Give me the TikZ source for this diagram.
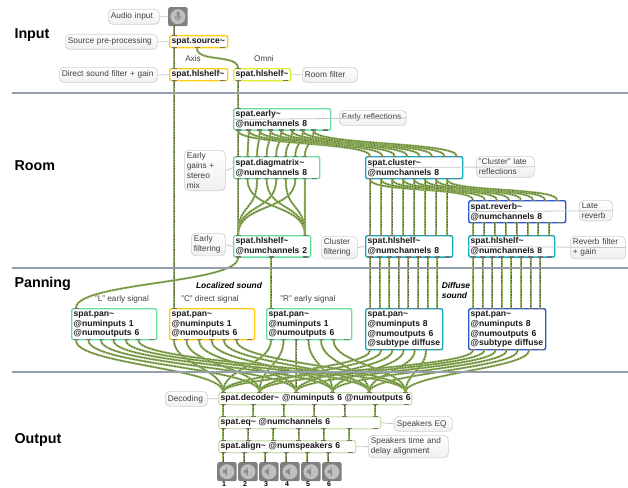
\documentclass[tikz,border=0pt]{standalone}
\usepackage{fontspec}
\setmainfont{Liberation Sans}
\definecolor{cablegreen}{RGB}{146,180,92}
\definecolor{cabledark}{RGB}{80,96,58}
\definecolor{ruleblue}{RGB}{150,160,172}
\definecolor{boxyellow}{RGB}{255,204,20}
\definecolor{boxlime}{RGB}{222,238,40}
\definecolor{boxgreen}{RGB}{104,222,160}
\definecolor{boxteal}{RGB}{20,170,190}
\definecolor{boxblue}{RGB}{40,90,205}
\definecolor{boxpale}{RGB}{205,226,180}
\tikzset{
  patchbox/.style={draw=#1, line width=1.4pt, rounded corners=2pt, fill=white, anchor=north west,
    inner sep=2pt, align=left, font=\fontsize{8.6}{9.8}\selectfont\bfseries, text=black!90},
  balloon/.style={draw=black!18, line width=0.7pt, rounded corners=4.5pt, top color=white, bottom color=black!6,
    anchor=north west, inner xsep=2.5pt, inner ysep=2.5pt, minimum height=15pt, align=left, font=\fontsize{8.3}{9.8}\selectfont, text=black!75},
  balloontail/.style={draw=black!22, line width=0.8pt},
  cable/.style={draw=cablegreen, line width=2pt, postaction={draw=cabledark, line width=0.7pt, dash pattern=on 1.4pt off 1.4pt}},
  porttab/.style={fill=black!55},
  sectiontitle/.style={anchor=west, font=\fontsize{14.3}{16}\selectfont\bfseries},
  sidelabel/.style={font=\fontsize{8.2}{9.6}\selectfont, text=black!75},
  boldnote/.style={font=\fontsize{8.4}{10}\selectfont\bfseries\itshape, align=left},
  sectionrule/.style={draw=ruleblue, line width=2pt},
  iconbox/.style={fill=black!50, rounded corners=2pt, minimum width=19.5pt, minimum height=19pt, inner sep=0pt},
}
% one patch cord, from an outlet of a box to an inlet of another
\newcommand{\cable}[5][12]{
  \fill[porttab] ([xshift={((#3)-2.5)*1pt}]#2.south west) rectangle +(5,-1.3);
  \fill[porttab] ([xshift={((#5)-2.5)*1pt}]#4.north west) rectangle +(5,1.3);
  \draw[cable] ([xshift={(#3)*1pt}]#2.south west) .. controls +(0,#1) and +(0,-#1) .. ([xshift={(#5)*1pt}]#4.north west);
}
\begin{document}
\begin{tikzpicture}[x=1pt,y=-1pt]
\useasboundingbox (0,0) rectangle (628,487);

% section titles
\node[sectiontitle] (tinput) at (11,35) {Input};
\node[sectiontitle] (troom) at (11,166) {Room};
\node[sectiontitle] (tpanning) at (11,284) {Panning};
\node[sectiontitle] (toutput) at (11,440) {Output};

% input
\node[iconbox, anchor=north west] (mic) at (168,7) {};
\fill[black!25] (mic.center) circle (7.5);
\fill[black!45, rounded corners=1pt] (176.5,11.5) rectangle (179.5,18.5);
\draw[black!45, line width=0.7pt] (175,16) .. controls (175,21) and (181,21) .. (181,16);
\node[patchbox=boxyellow, text width=54pt, minimum height=12pt] (source) at (169,35) {spat.source\char`~};
\node[patchbox=boxyellow, text width=54pt, minimum height=12pt] (hldirect) at (169,68) {spat.hlshelf\char`~};
\node[patchbox=boxlime, text width=53pt, minimum height=12pt] (hlroom) at (233,68) {spat.hlshelf\char`~};
\node[sidelabel] (laxis) at (193,59) {Axis};
\node[sidelabel] (lomni) at (264,59) {Omni};

% room
\node[patchbox=boxgreen, text width=93pt, minimum height=21pt] (early) at (233,108) {spat.early\char`~\\@numchannels 8};
\node[patchbox=boxgreen, text width=82pt, minimum height=22pt] (diag) at (233,156) {spat.diagmatrix\char`~\\@numchannels 8};
\node[patchbox=boxgreen, text width=73pt, minimum height=21pt] (hlearly) at (233,235) {spat.hlshelf\char`~\\@numchannels 2};
\node[patchbox=boxteal, text width=93pt, minimum height=22pt] (cluster) at (365,156) {spat.cluster\char`~\\@numchannels 8};
\node[patchbox=boxteal, text width=83pt, minimum height=21pt] (hlcluster) at (365,235) {spat.hlshelf\char`~\\@numchannels 8};
\node[patchbox=boxblue, text width=93pt, minimum height=22pt] (reverb) at (468,200) {spat.reverb\char`~\\@numchannels 8};
\node[patchbox=boxteal, text width=82pt, minimum height=21pt] (hlreverb) at (468,235) {spat.hlshelf\char`~\\@numchannels 8};

% panning
\node[patchbox=boxgreen, text width=81pt, minimum height=31pt] (panl) at (71,308) {spat.pan\char`~\\@numinputs 1\\@numoutputs 6};
\node[patchbox=boxyellow, text width=81pt, minimum height=31pt] (panc) at (169,308) {spat.pan\char`~\\@numinputs 1\\@numoutputs 6};
\node[patchbox=boxgreen, text width=81pt, minimum height=31pt] (panr) at (266,308) {spat.pan\char`~\\@numinputs 1\\@numoutputs 6};
\node[patchbox=boxteal, text width=73pt, minimum height=41pt] (pandiff) at (365,308) {spat.pan\char`~\\@numinputs 8\\@numoutputs 6\\@subtype diffuse};
\node[patchbox=boxblue, text width=73pt, minimum height=41pt] (panrev) at (468,308) {spat.pan\char`~\\@numinputs 8\\@numoutputs 6\\@subtype diffuse};
\node[sidelabel] (lsigl) at (122,299) {"L" early signal};
\node[sidelabel] (lsigc) at (210,299) {"C" direct signal};
\node[sidelabel] (lsigr) at (308,299) {"R" early signal};
\node[boldnote] (nlocal) at (229,285) {Localized sound};
\node[boldnote] (ndiff) at (456,290) {Diffuse\\sound};

% output
\node[patchbox=boxpale, text width=189pt, minimum height=11pt] (decoder) at (218,392) {\mbox{spat.decoder\char`~{} @numinputs 6 @numoutputs 6}};
\node[patchbox=boxpale, text width=158pt, minimum height=11pt] (eq) at (218,416) {spat.eq\char`~{} @numchannels 6};
\node[patchbox=boxpale, text width=133pt, minimum height=12pt] (align) at (218,440) {spat.align\char`~{} @numspeakers 6};
\foreach \n in {1,...,6} {
  \node[iconbox, anchor=north west] (spk\n) at ({217+21*(\n-1)},462) {};
  \fill[black!25] (spk\n.center) circle (7.5);
  \fill[black!45] ([xshift=-4pt,yshift=1.5pt]spk\n.center) -- ++(2,0) -- ++(2,-3) -- ++(0,9) -- ++(-2,-3) -- ++(-2,0) -- cycle;
  \node[font=\fontsize{7}{8}\selectfont\bfseries, inner sep=0pt] (num\n) at ({224+21*(\n-1)},484.3) {\n};
}

% comments
\node[balloon, text width=46pt] (caudio) at (108,9) {Audio input};
\node[balloon, text width=87pt] (csource) at (65,34) {Source pre-processing};
\node[balloon, text width=93pt] (cdirect) at (59,67) {Direct sound filter + gain};
\node[balloon, text width=50pt] (croom) at (302,67) {Room filter};
\node[balloon, text width=62pt] (cearly) at (339,110) {Early reflections};
\node[balloon, text width=36pt] (cgains) at (184,150) {Early\\gains +\\stereo\\mix};
\node[balloon, text width=29pt] (cefilt) at (191,233) {Early\\filtering};
\node[balloon, text width=31pt] (ccfilt) at (321,236) {Cluster\\filtering};
\node[balloon, text width=53pt] (clate) at (476,156) {"Cluster" late\\reflections};
\node[balloon, text width=28pt] (clrev) at (579,200) {Late\\reverb};
\node[balloon, text width=50pt] (crfilt) at (570,236) {Reverb filter\\+ gain};
\node[balloon, text width=37pt] (cdeco) at (165,391) {Decoding};
\node[balloon, text width=53pt] (cspeq) at (394,416) {Speakers EQ};
\node[balloon, text width=75pt] (cspal) at (368,435) {Speakers time and\\delay alignment};
\foreach \a/\b in {caudio/mic,csource/source,cdirect/hldirect,cearly/early,cgains/diag,cefilt/hlearly,ccfilt/hlcluster,clate/cluster,clrev/reverb,crfilt/hlreverb,cdeco/decoder}
  \draw[balloontail] (\a.east) -- (\b.west);
\draw[balloontail] (croom.west) -- (hlroom.east);
\draw[balloontail] (cspeq.west) -- (eq.east);
\draw[balloontail] (cspal.west) -- (align.east);

% input cords
\cable{mic}{6}{source}{5}
\cable{source}{5}{hldirect}{5}
\cable[14]{source}{28}{hlroom}{5}
\cable{hldirect}{5}{panc}{5}
\cable{hlroom}{5}{early}{5}

% room cords
\foreach \k in {0,...,7} {
  \cable{early}{5+10.8*\k}{diag}{5+9.55*\k}
  \cable[14]{early}{5+10.8*\k}{cluster}{5+12.4*\k}
  \cable{cluster}{5+11*\k}{hlcluster}{5+11*\k}
  \cable[13]{cluster}{5+11*\k}{reverb}{5+12*\k}
  \cable{reverb}{5+10.9*\k}{hlreverb}{5+10.9*\k}
  \cable{hlcluster}{5+9.6*\k}{pandiff}{5+9.6*\k}
  \cable{hlreverb}{5+9.6*\k}{panrev}{5+9.6*\k}
}
\foreach \k in {0,2,4,6} {\cable[32]{diag}{5+9.55*\k}{hlearly}{5}}
\foreach \k in {1,3,5,7} {\cable[32]{diag}{5+9.55*\k}{hlearly}{72}}
\cable[26]{hlearly}{5}{panl}{5}
\cable{hlearly}{38}{panr}{5}

% panning to decoder cords
\foreach \k [count=\n] in {0,...,5} {
  \cable[24]{panl}{5+12.5*\k}{decoder}{5+36.5*\k}
  \cable[24]{panc}{5+12.5*\k}{decoder}{5+36.5*\k}
  \cable[24]{panr}{5+12.5*\k}{decoder}{5+36.5*\k}
  \cable[18]{pandiff}{5+11.2*\k}{decoder}{5+36.5*\k}
  \cable[18]{panrev}{5+11.2*\k}{decoder}{5+36.5*\k}
  \cable{decoder}{5+30.4*\k}{eq}{5+30.4*\k}
  \cable{eq}{5+25.2*\k}{align}{5+25.2*\k}
  \cable{align}{5+21*\k}{spk\n}{6}
}

% extra outlet tabs on the right of the boxes
\foreach \b in {source,hldirect,hlroom,early,diag,hlearly,cluster,hlcluster,reverb,hlreverb,panl,panc,panr,pandiff,panrev,decoder,eq,align}
  \fill[porttab] ([xshift=-8pt]\b.south east) rectangle +(5,-1.3);

% section rules
\draw[sectionrule] (12,93) -- (628,93);
\draw[sectionrule] (12,268) -- (628,268);
\draw[sectionrule] (12,372) -- (628,372);
\end{tikzpicture}
\end{document}
